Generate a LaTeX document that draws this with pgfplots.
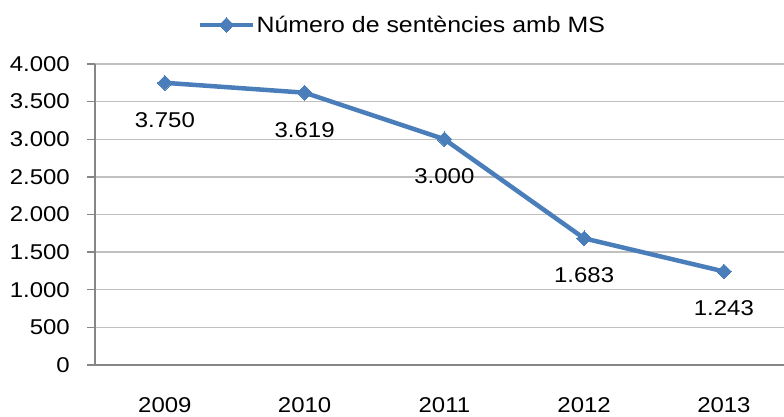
\documentclass[border=0pt]{standalone}
\usepackage{fontspec}
\setmainfont{Liberation Sans}[FakeStretch=1.12]
\usepackage{pgfplots}
\pgfplotsset{compat=1.18}
\definecolor{serblue}{HTML}{4A7EBB}
\definecolor{gridgray}{HTML}{C0C0C0}
\definecolor{axisgray}{HTML}{868686}
\newcommand{\chartfont}{\fontsize{21.4}{25}\selectfont}
\newcommand{\legfont}{\fontsize{22.2}{26}\selectfont}
\begin{document}
\begin{tikzpicture}
\begin{axis}[
  name=ax,
  scale only axis,
  width=689pt, height=301pt,
  xmin=-0.5, xmax=4.43,
  ymin=0, ymax=4000,
  axis x line*=bottom,
  axis y line*=left,
  axis line style={axisgray, line width=1.3pt},
  xtick={0,1,2,3,4},
  xticklabels={2009,2010,2011,2012,2013},
  xtick style={draw=none},
  minor xtick={-0.5,0.5,1.5,2.5,3.5},
  minor x tick style={axisgray, line width=1.3pt},
  minor tick length=8pt,
  major tick length=8pt,
  tick align=outside,
  ytick={0,500,...,4000},
  ytick style={axisgray, line width=1.3pt},
  ymajorgrids,
  major grid style={gridgray, line width=1.3pt},
  scaled y ticks=false,
  /pgf/number format/.cd, 1000 sep={.}, assume math mode=true,
  /pgfplots/.cd,
  tick label style={font=\chartfont, text=black},
  yticklabel style={inner sep=0pt, xshift=-17pt},
  xticklabel style={inner sep=0pt, yshift=-24pt},
  legend style={draw=none, fill=none, font=\legfont, at={(0.4456,1.1296)}, anchor=center, inner sep=0pt, nodes={inner xsep=1.5pt}},
  legend image code/.code={\draw[mark repeat=2,mark phase=2,#1] plot coordinates {(0pt,0pt) (26.5pt,0pt) (53pt,0pt)};},
  nodes near coords,
  every node near coord/.append style={font=\chartfont, text=black, anchor=center, yshift=-37pt},
  clip=false,
]
\addplot[serblue, line width=4.5pt, mark=square*, mark size=5.2pt, mark options={rotate=45, fill=serblue, draw=serblue, line width=0pt}]
  coordinates {(0,3750) (1,3619) (2,3000) (3,1683) (4,1243)};
\addlegendentry{Número de sentències amb MS}
\end{axis}
\pgfresetboundingbox
\path[use as bounding box] (ax.south west) ++(-95pt,-52pt) rectangle ++(784pt,417pt);
\end{tikzpicture}
\end{document}
